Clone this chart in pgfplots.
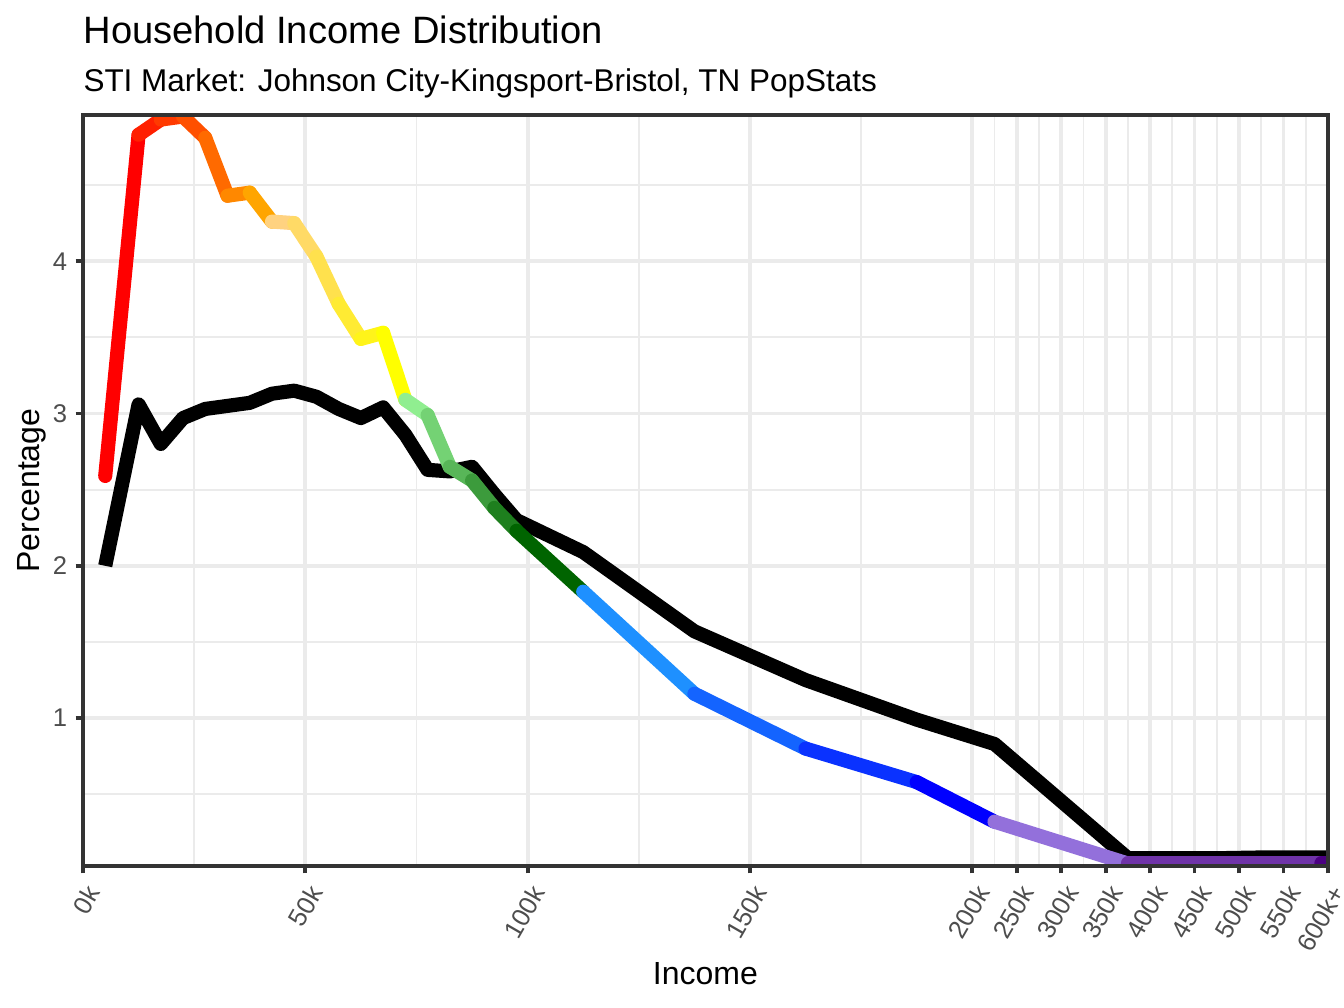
\documentclass[border=0pt]{standalone}
\usepackage{pgfplots}
\pgfplotsset{compat=1.18}
\usepackage{fontspec}
\setmainfont{Liberation Sans}

\definecolor{grey92}{HTML}{EBEBEB}
\definecolor{grey20}{HTML}{333333}
\definecolor{grey30}{HTML}{4D4D4D}
% segment colours, one per stretch of the coloured path
\definecolor{c00}{HTML}{FF0000}
\definecolor{c01}{HTML}{FF2000}
\definecolor{c02}{HTML}{FF3A00}
\definecolor{c03}{HTML}{FF5000}
\definecolor{c04}{HTML}{FF6A00}
\definecolor{c05}{HTML}{FF8800}
\definecolor{c06}{HTML}{FFA500}
\definecolor{c07}{HTML}{FFD280}
\definecolor{c08}{HTML}{FFDA66}
\definecolor{c09}{HTML}{FFE14D}
\definecolor{c10}{HTML}{FFEB33}
\definecolor{c11}{HTML}{FFF41A}
\definecolor{c12}{HTML}{FFFF00}
\definecolor{c13}{HTML}{90EE90}
\definecolor{c14}{HTML}{74D274}
\definecolor{c15}{HTML}{58B658}
\definecolor{c16}{HTML}{3C9B3C}
\definecolor{c17}{HTML}{1E7F1E}
\definecolor{c18}{HTML}{006400}
\definecolor{c19}{HTML}{1E90FF}
\definecolor{c20}{HTML}{1464FF}
\definecolor{c21}{HTML}{0A32FF}
\definecolor{c22}{HTML}{0000FF}
\definecolor{c23}{HTML}{9370DB}
\definecolor{c24}{HTML}{6F33A8}
\definecolor{c25}{HTML}{4B0082}

\begin{document}
\begin{tikzpicture}[seg/.style={line width=5.3bp, line cap=round, line join=round}]
\useasboundingbox (-31.125bp,-53.25bp) rectangle (472.875bp,324.75bp);
\begin{axis}[
    name=ax,
    at={(0,0)}, anchor=south west,
    scale only axis,
    width=466.875bp, height=281.625bp,
    xmin=0, xmax=280, ymin=0.029, ymax=4.96,
    % x is drawn linear to 200k, then 50k per 10 units
    xtick={0,50,100,150,200,210,220,230,240,250,260,270,280},
    xticklabels={0k,50k,100k,150k,200k,250k,300k,350k,400k,450k,500k,550k,600k+},
    minor xtick={25,75,125,175,205,215,225,235,245,255,265,275},
    ytick={1,2,3,4},
    minor ytick={0.5,1.5,2.5,3.5,4.5},
    grid=both,
    major grid style={color=grey92, line width=1.4bp},
    minor grid style={color=grey92, line width=0.7bp},
    axis line style={draw=none},
    tick pos=left,
    tick align=outside,
    major tick length=2.75bp,
    minor tick length=0pt,
    tick style={color=grey20, line width=1.4bp},
    /pgf/number format/assume math mode=true,
    xticklabel style={font=\fontsize{9.6bp}{11bp}\selectfont, text=grey30,
        inner sep=0pt, xshift=0.75bp, yshift=-3.55bp, rotate=60, anchor=north east},
    yticklabel style={font=\fontsize{9.6bp}{11bp}\selectfont, text=grey30,
        inner sep=0pt, anchor=east, xshift=-3bp},
]
% all households (black)
\addplot[black, line width=5.3bp, line cap=butt, line join=round] coordinates {
(5,2.00) (12.5,3.06) (17.5,2.80) (22.5,2.97) (27.5,3.03) (32.5,3.05)
(37.5,3.07) (42.5,3.13) (47.5,3.15) (52.5,3.11) (57.5,3.03) (62.5,2.97)
(67.5,3.04) (72.5,2.86) (77.5,2.63) (82.5,2.62) (87.5,2.65) (92.5,2.47)
(97.5,2.30) (112.5,2.09) (137.5,1.57) (162.5,1.25) (187.5,0.99) (205,0.83)
(235,0.08) (245,0.08) (255,0.08) (265,0.085) (275,0.085) (280,0.085)
};
% market (coloured by income band)
\addplot[seg, color=c00] coordinates {(5,2.59) (12.5,4.83)};
\addplot[seg, color=c01] coordinates {(12.5,4.83) (17.5,4.93)};
\addplot[seg, color=c02] coordinates {(17.5,4.93) (22.5,4.95)};
\addplot[seg, color=c03] coordinates {(22.5,4.95) (27.5,4.81)};
\addplot[seg, color=c04] coordinates {(27.5,4.81) (32.5,4.43)};
\addplot[seg, color=c05] coordinates {(32.5,4.43) (37.5,4.45)};
\addplot[seg, color=c06] coordinates {(37.5,4.45) (42.5,4.26)};
\addplot[seg, color=c07] coordinates {(42.5,4.26) (47.5,4.25)};
\addplot[seg, color=c08] coordinates {(47.5,4.25) (52.5,4.03)};
\addplot[seg, color=c09] coordinates {(52.5,4.03) (57.5,3.72)};
\addplot[seg, color=c10] coordinates {(57.5,3.72) (62.5,3.49)};
\addplot[seg, color=c11] coordinates {(62.5,3.49) (67.5,3.53)};
\addplot[seg, color=c12] coordinates {(67.5,3.53) (72.5,3.09)};
\addplot[seg, color=c13] coordinates {(72.5,3.09) (77.5,2.99)};
\addplot[seg, color=c14] coordinates {(77.5,2.99) (82.5,2.65)};
\addplot[seg, color=c15] coordinates {(82.5,2.65) (87.5,2.56)};
\addplot[seg, color=c16] coordinates {(87.5,2.56) (92.5,2.38)};
\addplot[seg, color=c17] coordinates {(92.5,2.38) (97.5,2.23)};
\addplot[seg, color=c18] coordinates {(97.5,2.23) (112.5,1.83)};
\addplot[seg, color=c19] coordinates {(112.5,1.83) (137.5,1.16)};
\addplot[seg, color=c20] coordinates {(137.5,1.16) (162.5,0.80)};
\addplot[seg, color=c21] coordinates {(162.5,0.80) (187.5,0.58)};
\addplot[seg, color=c22] coordinates {(187.5,0.58) (205,0.32)};
\addplot[seg, color=c23] coordinates {(205,0.32) (235,0.045)};
\addplot[seg, color=c24] coordinates {(235,0.045) (245,0.045) (255,0.045) (265,0.045) (278.5,0.045)};
\addplot[seg, color=c25] coordinates {(278.5,0.045) (280,0.045)};
\end{axis}
\draw[grey20, line width=1.4bp] (ax.south west) rectangle (ax.north east);
\node[anchor=base west, inner sep=0pt, font=\fontsize{14.3bp}{17bp}\selectfont]
    at (0,308.5bp) {Household Income Distribution};
\node[anchor=base west, inner sep=0pt, font=\fontsize{11.8bp}{14bp}\selectfont]
    at (0,290.4bp) {STI Market: Johnson City-Kingsport-Bristol, TN PopStats};
\node[anchor=base, inner sep=0pt, font=\fontsize{12bp}{14bp}\selectfont]
    at (233.4bp,-44.6bp) {Income};
\node[anchor=base, inner sep=0pt, rotate=90, font=\fontsize{12bp}{14bp}\selectfont]
    at (-16.3bp,140.8bp) {Percentage};
\end{tikzpicture}
\end{document}
